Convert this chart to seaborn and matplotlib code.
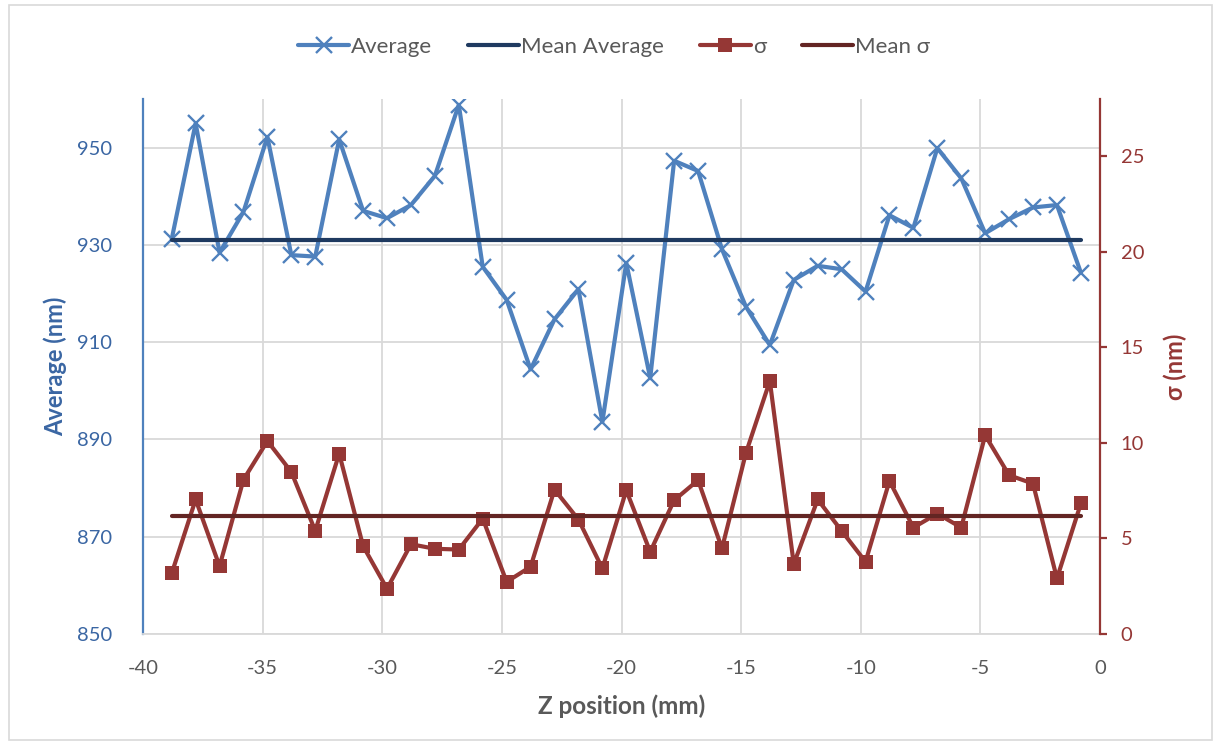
import numpy as np
import pandas as pd
import matplotlib
matplotlib.use("Agg")
import matplotlib.pyplot as plt
from matplotlib.patches import Rectangle
import seaborn as sns

# ---- data ----
z_pos = [-38.8, -37.8, -36.8, -35.8, -34.8, -33.8, -32.8, -31.8, -30.8, -29.8,
         -28.8, -27.8, -26.8, -25.8, -24.8, -23.8, -22.8, -21.8, -20.8, -19.8,
         -18.8, -17.8, -16.8, -15.8, -14.8, -13.8, -12.8, -11.8, -10.8, -9.8,
         -8.8, -7.8, -6.8, -5.8, -4.8, -3.8, -2.8, -1.8, -0.8]
average = [931.2, 955.0, 928.4, 936.8, 952.2, 927.9, 927.6, 951.7, 937.0, 935.5,
           938.2, 944.2, 958.8, 925.5, 918.7, 904.4, 914.7, 920.9, 893.6, 926.3,
           902.6, 947.3, 945.2, 929.1, 917.3, 909.4, 922.8, 925.7, 925.0, 920.4,
           936.1, 933.5, 949.9, 943.7, 932.4, 935.3, 937.7, 938.2, 924.3]
sigma = [3.17, 7.04, 3.55, 8.08, 10.10, 8.48, 5.40, 9.44, 4.60, 2.37,
         4.70, 4.46, 4.42, 6.04, 2.73, 3.52, 7.56, 5.99, 3.43, 7.52,
         4.30, 7.00, 8.05, 4.48, 9.47, 13.24, 3.66, 7.04, 5.40, 3.78,
         8.01, 5.57, 6.30, 5.57, 10.40, 8.31, 7.87, 2.91, 6.83]
mean_average = 931.0
mean_sigma = 6.17
x_ticks = [-40, -35, -30, -25, -20, -15, -10, -5, 0]
left_ticks = [850, 870, 890, 910, 930, 950]
right_ticks = [0, 5, 10, 15, 20, 25]

df = pd.DataFrame({"z": z_pos, "avg": average, "sigma": sigma})
mean_df = pd.DataFrame({"z": [z_pos[0], z_pos[-1]],
                        "mavg": [mean_average, mean_average],
                        "msig": [mean_sigma, mean_sigma]})

sns.set_style("white")
FONT = ["Lato", "DejaVu Sans"]
plt.rcParams["font.family"] = FONT

C_AVG = "#4F81BD"
C_MAVG = "#1F3A60"
C_SIG = "#953735"
C_MSIG = "#632523"
C_LBLUE = "#3A66A3"
C_GRAY = "#595959"
C_GRID = "#D9D9D9"

fig = plt.figure(figsize=(12.16, 7.45), dpi=100)
ax = fig.add_axes([143 / 1216, 1 - 634 / 745, (1100 - 143) / 1216, (634 - 99) / 745])
ax2 = ax.twinx()

ax.set_axisbelow(True)
ax.grid(True, color=C_GRID, lw=1.3)

sns.lineplot(data=df, x="z", y="avg", ax=ax, color=C_AVG, lw=3.0,
             marker="x", markersize=11.5, markeredgewidth=1.7, markeredgecolor=C_AVG,
             label="Average", legend=False)
sns.lineplot(data=mean_df, x="z", y="mavg", ax=ax, color=C_MAVG, lw=3.0,
             label="Mean Average", legend=False)
sns.lineplot(data=df, x="z", y="sigma", ax=ax2, color=C_SIG, lw=3.0,
             marker="s", markersize=10.5, markeredgewidth=0, markerfacecolor=C_SIG,
             label="σ", legend=False)
sns.lineplot(data=mean_df, x="z", y="msig", ax=ax2, color=C_MSIG, lw=3.0,
             label="Mean σ", legend=False)

ax.set_xlim(-40, 0)
ax.set_ylim(850, 960)
ax2.set_ylim(0, 28)
ax.set_xticks(x_ticks)
ax.set_xticklabels([str(v) for v in x_ticks])
ax.set_yticks(left_ticks)
ax2.set_yticks(right_ticks)

ax.spines["top"].set_visible(False)
ax2.spines["top"].set_visible(False)
ax.spines["right"].set_visible(False)
ax2.spines["left"].set_visible(False)
ax2.spines["bottom"].set_visible(False)
ax.spines["left"].set_color(C_AVG)
ax.spines["left"].set_linewidth(1.6)
ax.spines["bottom"].set_color(C_GRID)
ax.spines["bottom"].set_linewidth(1.3)
ax2.spines["right"].set_color(C_SIG)
ax2.spines["right"].set_linewidth(1.6)

ax.tick_params(axis="x", length=0, pad=19, labelsize=14.5, labelcolor=C_GRAY)
ax.tick_params(axis="y", length=0, pad=22, labelsize=14.5, labelcolor=C_LBLUE)
ax2.tick_params(axis="y", length=5, width=1.6, color=C_SIG, direction="out",
                pad=10, labelsize=14.5, labelcolor=C_SIG)

ax.set_xlabel("Z position (mm)", fontsize=17.5, fontweight="bold", color=C_GRAY,
              labelpad=12, family=FONT)
ax.set_ylabel("Average (nm)", fontsize=17, fontweight="bold", color=C_LBLUE,
              labelpad=7, family=FONT)
ax2.set_ylabel("σ (nm)", fontsize=17, fontweight="bold", color=C_SIG,
               labelpad=14, rotation=90, family=FONT)

h1, l1 = ax.get_legend_handles_labels()
h2, l2 = ax2.get_legend_handles_labels()
leg = fig.legend(h1 + h2, l1 + l2, loc="center", bbox_to_anchor=(0.505, 1 - 47 / 745),
                 ncol=4, frameon=False, fontsize=16, handlelength=2.3,
                 handletextpad=0.1, columnspacing=1.6)
for t in leg.get_texts():
    t.set_color(C_GRAY)

fig.patches.append(Rectangle((9 / 1216, 5 / 745), 1203 / 1216, 735 / 745,
                             transform=fig.transFigure, fill=False,
                             edgecolor=C_GRID, lw=1.2))

fig.savefig("out.png", dpi=100)
